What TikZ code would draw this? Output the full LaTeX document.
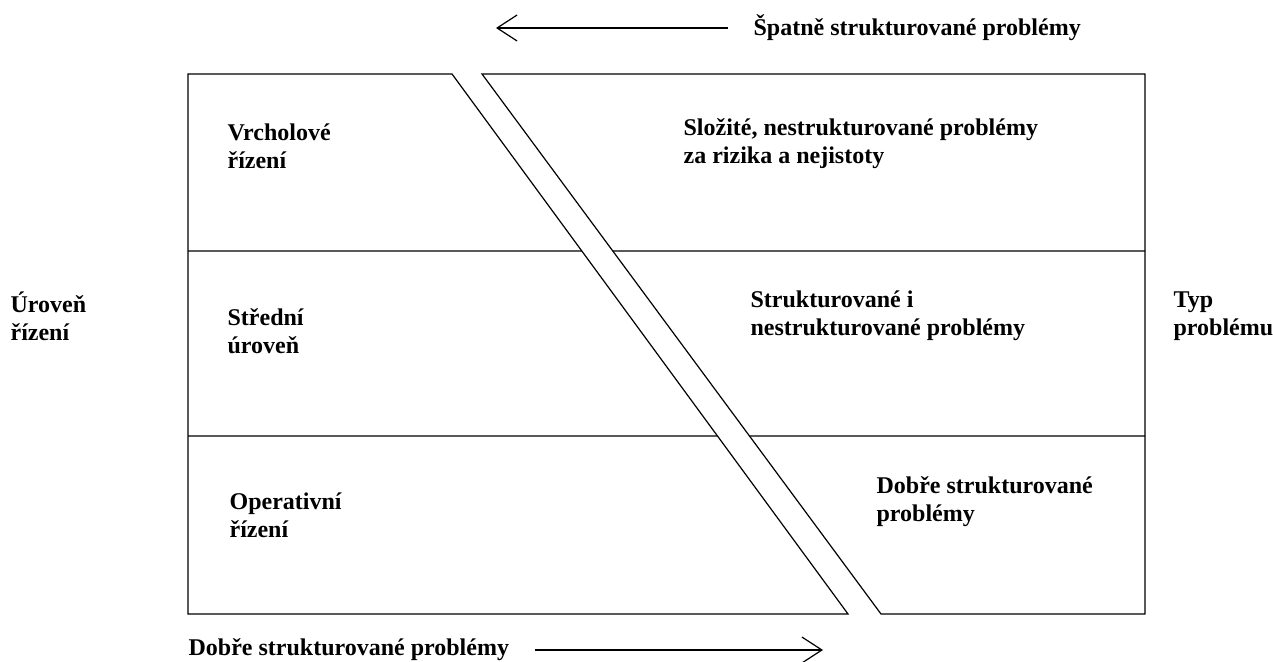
\documentclass[tikz,border=0pt]{standalone}
\usepackage{fontspec}
\setmainfont{Liberation Serif}
\usetikzlibrary{arrows.meta, calc}
\tikzset{lbl/.style={anchor=west, align=left, inner sep=0pt, font=\bfseries\fontsize{12}{14}\selectfont}}
\tikzset{flow/.style={-{Straight Barb[length=10pt, width=13pt]}}}

\begin{document}
\begin{tikzpicture}[x=0.5pt, y=-0.5pt, line width=0.6pt]
\useasboundingbox (0,0) rectangle (1273,662);

% the two halves of the box, split by the slanted gap
\coordinate (lt) at (452,74);
\coordinate (lb) at (848,614);
\coordinate (rt) at (482,74);
\coordinate (rb) at (881,614);
\draw (lt) -- (188,74) -- (188,614) -- (lb) -- cycle;
\draw (rt) -- (1145,74) -- (1145,614) -- (rb) -- cycle;

% levels
\foreach \y in {251,436}
{
    \draw (188,\y) -- ($(lt)!{(\y-74)/540}!(lb)$);
    \draw ($(rt)!{(\y-74)/540}!(rb)$) -- (1145,\y);
};

\node[lbl] (vrchol) at (227,146) {Vrcholové\\řízení};
\node[lbl] (stredni) at (227,331) {Střední\\úroveň};
\node[lbl] (oper) at (229,515) {Operativní\\řízení};

\node[lbl] (slozite) at (683,144) {Složité, nestrukturované problémy\\za rizika a nejistoty};
\node[lbl] (struk) at (750,316) {Strukturované i\\nestrukturované problémy};
\node[lbl] (dobrestr) at (876,502) {Dobře strukturované\\problémy};

\node[lbl] (uroven) at (10,316) {Úroveň\\řízení};
\node[lbl] (typ) at (1173,316) {Typ\\problému};

% arrows
\node[lbl] (spatne) at (753,28) {Špatně strukturované problémy};
\coordinate (spatnekam) at (496,28);
\draw[flow] (728,28) -- (spatnekam);

\node[lbl] (dobre) at (188,650) {Dobře strukturované problémy};
\coordinate (dobrekam) at (823,650);
\draw[flow] ($(dobre.east)+(25,0)$) -- (dobrekam);
\end{tikzpicture}
\end{document}
